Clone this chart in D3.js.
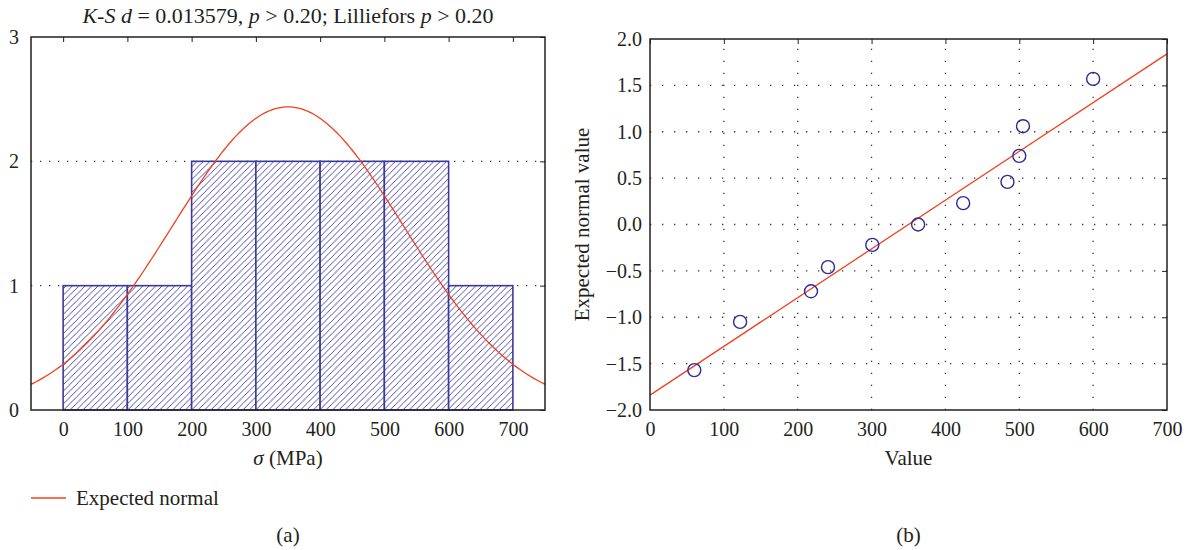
<!DOCTYPE html>
<html lang="en">
    <head>
        <meta charset="utf-8">
        <title>normality check</title>
        <script type="text/javascript" src="https://cdn.jsdelivr.net/npm/d3@7/dist/d3.min.js"></script>
        <style type="text/css">
            body { margin: 0; background: white; }
            text { font-family: "Liberation Serif", "DejaVu Serif", serif; fill: #231f20; }
        </style>
    </head>
    <body>
        <script type="text/javascript">

            // histogram (a)
            var binStarts = [0, 100, 200, 300, 400, 500, 600];
            var binCounts = [1, 1, 2, 2, 2, 2, 1];
            var binWidth = 100;
            var histXTicks = [0, 100, 200, 300, 400, 500, 600, 700];
            var histYTicks = [0, 1, 2, 3];
            var histGrid = [1, 2];
            // expected normal
            var normalMean = 350;
            var normalSd = 180;

            // normal probability plot (b)
            var values   = [60, 122, 218, 241, 301, 363, 424, 484, 500, 505, 600];
            var expected = [-1.57, -1.05, -0.72, -0.46, -0.22, 0.00, 0.23, 0.46, 0.74, 1.06, 1.57];
            var fitX = [0, 700];
            var fitY = [-1.84, 1.84];
            var probXTicks = [0, 100, 200, 300, 400, 500, 600, 700];
            var probYTicks = [-2.0, -1.5, -1.0, -0.5, 0.0, 0.5, 1.0, 1.5, 2.0];

            var w = 1186;
            var h = 550;
            var blue = "#3a3a9c";
            var red = "#f2401f";
            var fs = "20px";     // tick labels
            var fsLab = "21px";  // axis labels, legend
            var fsTitle = "22px";

            var svg = d3.select("body")
                .append("svg")
                .attr("width", w)
                .attr("height", h);

            var defs = svg.append("defs");
            var hatch = defs.append("pattern")
                .attr("id", "hatch")
                .attr("patternUnits", "userSpaceOnUse")
                .attr("width", 6.4)
                .attr("height", 6.4);
            hatch.append("rect").attr("width", 6.4).attr("height", 6.4).attr("fill", "white");
            hatch.append("path")
                .attr("d", "M-1.6,1.6 L1.6,-1.6 M0,6.4 L6.4,0 M4.8,8 L8,4.8")
                .attr("stroke", blue)
                .attr("stroke-width", 0.9);

            // ---------- (a) histogram ----------
            var a = { left: 31, right: 545, top: 37, bottom: 410 };

            var xA = d3.scaleLinear().domain([-50, 750]).range([a.left, a.right]);
            var yA = d3.scaleLinear().domain([0, 3]).range([a.bottom, a.top]);

            defs.append("clipPath").attr("id", "clipA")
                .append("rect")
                .attr("x", a.left).attr("y", a.top)
                .attr("width", a.right - a.left).attr("height", a.bottom - a.top);

            var gA = svg.append("g");

            gA.selectAll("line.grid")
                .data(histGrid)
                .enter()
                .append("line")
                .attr("class", "grid")
                .attr("x1", a.left).attr("x2", a.right)
                .attr("y1", function(d) { return yA(d); })
                .attr("y2", function(d) { return yA(d); })
                .attr("stroke", "#333")
                .attr("stroke-width", 1.3)
                .attr("stroke-dasharray", "1.3,7.7");

            gA.selectAll("rect.bar")
                .data(binCounts)
                .enter()
                .append("rect")
                .attr("class", "bar")
                .attr("x", function(d, i) { return xA(binStarts[i]); })
                .attr("y", function(d) { return yA(d); })
                .attr("width", function(d, i) { return xA(binStarts[i] + binWidth) - xA(binStarts[i]); })
                .attr("height", function(d) { return yA(0) - yA(d); })
                .attr("fill", "url(#hatch)")
                .attr("stroke", blue)
                .attr("stroke-width", 1.6);

            var nTotal = d3.sum(binCounts);
            var curveX = d3.range(-50, 751, 4);
            var normalLine = d3.line()
                .x(function(d) { return xA(d); })
                .y(function(d) {
                    var z = (d - normalMean) / normalSd;
                    return yA(nTotal * binWidth / (normalSd * Math.sqrt(2 * Math.PI)) * Math.exp(-0.5 * z * z));
                });

            gA.append("path")
                .datum(curveX)
                .attr("d", normalLine)
                .attr("clip-path", "url(#clipA)")
                .attr("fill", "none")
                .attr("stroke", red)
                .attr("stroke-width", 1.3);

            // frame
            gA.append("rect")
                .attr("x", a.left).attr("y", a.top)
                .attr("width", a.right - a.left).attr("height", a.bottom - a.top)
                .attr("fill", "none")
                .attr("stroke", "#231f20")
                .attr("stroke-width", 1.5);

            gA.append("g")
                .attr("transform", "translate(0," + a.bottom + ")")
                .call(d3.axisBottom(xA).tickValues(histXTicks).tickSize(0).tickPadding(12))
                .call(function(g) { g.select(".domain").remove(); })
                .selectAll("text").style("font-size", fs).attr("font-family", null);
            gA.append("g")
                .attr("transform", "translate(0," + a.top + ")")
                .call(d3.axisBottom(xA).tickValues(histXTicks).tickSize(5).tickFormat(""))
                .call(function(g) { g.select(".domain").remove(); })
                .selectAll("line").attr("stroke", "#231f20");
            gA.append("g")
                .attr("transform", "translate(" + a.left + ",0)")
                .call(d3.axisLeft(yA).tickValues(histYTicks).tickSize(0).tickPadding(12).tickFormat(d3.format("d")))
                .call(function(g) { g.select(".domain").remove(); })
                .selectAll("text").style("font-size", fs).attr("font-family", null);
            gA.append("g")
                .attr("transform", "translate(" + a.right + ",0)")
                .call(d3.axisRight(yA).tickValues(histYTicks).tickSize(-5).tickFormat(""))
                .call(function(g) { g.select(".domain").remove(); })
                .selectAll("line").attr("stroke", "#231f20");

            svg.selectAll(".tick text").attr("fill", "#231f20");

            var title = gA.append("text")
                .attr("x", (a.left + a.right) / 2)
                .attr("y", 23)
                .attr("text-anchor", "middle")
                .style("font-size", fsTitle);
            title.append("tspan").attr("font-style", "italic").text("K-S d");
            title.append("tspan").text(" = 0.013579, ");
            title.append("tspan").attr("font-style", "italic").text("p");
            title.append("tspan").text(" > 0.20; Lilliefors ");
            title.append("tspan").attr("font-style", "italic").text("p");
            title.append("tspan").text(" > 0.20");

            var xlabA = gA.append("text")
                .attr("x", (a.left + a.right) / 2)
                .attr("y", 465)
                .attr("text-anchor", "middle")
                .style("font-size", fsLab);
            xlabA.append("tspan").attr("font-style", "italic").text("σ");
            xlabA.append("tspan").text(" (MPa)");

            gA.append("line")
                .attr("x1", 31).attr("x2", 66)
                .attr("y1", 498).attr("y2", 498)
                .attr("stroke", red).attr("stroke-width", 1.3);
            gA.append("text")
                .attr("x", 76).attr("y", 505)
                .style("font-size", fsLab)
                .text("Expected normal");

            gA.append("text")
                .attr("x", (a.left + a.right) / 2).attr("y", 542)
                .attr("text-anchor", "middle")
                .style("font-size", fsLab)
                .text("(a)");

            // ---------- (b) normal probability plot ----------
            var b = { left: 650, right: 1167, top: 39, bottom: 410 };

            var xB = d3.scaleLinear().domain([0, 700]).range([b.left, b.right]);
            var yB = d3.scaleLinear().domain([-2, 2]).range([b.bottom, b.top]);

            var gB = svg.append("g");

            gB.selectAll("line.vgrid")
                .data(probXTicks.slice(1, -1))
                .enter()
                .append("line")
                .attr("class", "vgrid")
                .attr("x1", function(d) { return xB(d); })
                .attr("x2", function(d) { return xB(d); })
                .attr("y1", b.bottom).attr("y2", b.top)
                .attr("stroke", "#333")
                .attr("stroke-width", 1.3)
                .attr("stroke-dasharray", "1.3,10.7");

            gB.selectAll("line.hgrid")
                .data(probYTicks.slice(1, -1))
                .enter()
                .append("line")
                .attr("class", "hgrid")
                .attr("x1", b.left).attr("x2", b.right)
                .attr("y1", function(d) { return yB(d); })
                .attr("y2", function(d) { return yB(d); })
                .attr("stroke", "#333")
                .attr("stroke-width", 1.3)
                .attr("stroke-dasharray", "1.3,10.7");

            gB.append("line")
                .attr("x1", xB(fitX[0])).attr("y1", yB(fitY[0]))
                .attr("x2", xB(fitX[1])).attr("y2", yB(fitY[1]))
                .attr("stroke", red)
                .attr("stroke-width", 1.3);

            gB.selectAll("circle")
                .data(values)
                .enter()
                .append("circle")
                .attr("cx", function(d) { return xB(d); })
                .attr("cy", function(d, i) { return yB(expected[i]); })
                .attr("r", 6.5)
                .attr("fill", "none")
                .attr("stroke", "#2b2b9c")
                .attr("stroke-width", 1.4);

            gB.append("rect")
                .attr("x", b.left).attr("y", b.top)
                .attr("width", b.right - b.left).attr("height", b.bottom - b.top)
                .attr("fill", "none")
                .attr("stroke", "#231f20")
                .attr("stroke-width", 1.5);

            gB.append("g")
                .attr("transform", "translate(0," + b.bottom + ")")
                .call(d3.axisBottom(xB).tickValues(probXTicks).tickSize(0).tickPadding(12))
                .call(function(g) { g.select(".domain").remove(); })
                .selectAll("text").style("font-size", fs).attr("font-family", null);
            gB.append("g")
                .attr("transform", "translate(0," + b.top + ")")
                .call(d3.axisBottom(xB).tickValues(probXTicks).tickSize(5).tickFormat(""))
                .call(function(g) { g.select(".domain").remove(); })
                .selectAll("line").attr("stroke", "#231f20");
            gB.append("g")
                .attr("transform", "translate(" + b.left + ",0)")
                .call(d3.axisLeft(yB).tickValues(probYTicks).tickSize(0).tickPadding(8).tickFormat(d3.format(".1f")))
                .call(function(g) { g.select(".domain").remove(); })
                .selectAll("text").style("font-size", fs).attr("font-family", null);
            gB.append("g")
                .attr("transform", "translate(" + b.right + ",0)")
                .call(d3.axisRight(yB).tickValues(probYTicks).tickSize(-5).tickFormat(""))
                .call(function(g) { g.select(".domain").remove(); })
                .selectAll("line").attr("stroke", "#231f20");

            svg.selectAll(".tick text").attr("fill", "#231f20");

            gB.append("text")
                .attr("transform", "translate(589," + (b.top + b.bottom) / 2 + ") rotate(-90)")
                .attr("text-anchor", "middle")
                .style("font-size", fsLab)
                .text("Expected normal value");

            gB.append("text")
                .attr("x", (b.left + b.right) / 2).attr("y", 465)
                .attr("text-anchor", "middle")
                .style("font-size", fsLab)
                .text("Value");

            gB.append("text")
                .attr("x", (b.left + b.right) / 2).attr("y", 542)
                .attr("text-anchor", "middle")
                .style("font-size", fsLab)
                .text("(b)");

        </script>
    </body>
</html>
